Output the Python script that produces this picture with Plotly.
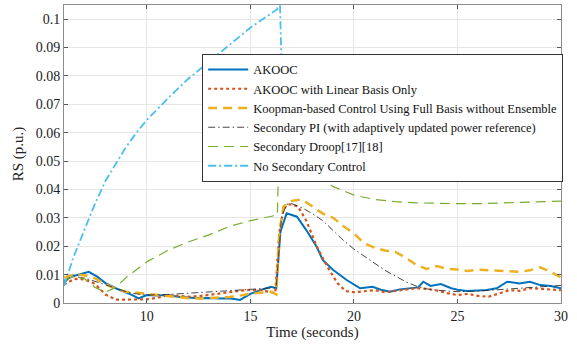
import plotly.graph_objects as go

# ---- data ----
t_blue = [6, 6.3, 6.6, 7, 7.2, 7.6, 8, 8.5, 9, 9.3, 9.6, 10, 10.5, 11, 11.5, 12, 12.5, 13, 13.5, 14, 14.5, 15, 15.5, 16, 16.25,
          16.45, 16.75, 17.25, 17.7, 18.2, 18.5, 19, 19.65, 20.3, 20.9, 21.3, 21.75, 22.2, 22.7, 23.1, 23.35, 23.7, 24.2, 24.7,
          25, 25.45, 26, 26.4, 26.9, 27.4, 28, 28.5, 29, 29.5, 30]
akooc = [0.007, 0.0095, 0.0098, 0.0105, 0.011, 0.0093, 0.007, 0.0052, 0.0038, 0.0028, 0.0016, 0.0028, 0.0026, 0.0028, 0.0022,
         0.002, 0.0017, 0.0018, 0.0016, 0.0017, 0.0011, 0.0032, 0.0046, 0.0057, 0.0052,
         0.025, 0.0316, 0.0304, 0.0257, 0.0198, 0.0151, 0.0116, 0.0081, 0.0052, 0.0057, 0.0047, 0.004, 0.0048, 0.0052, 0.0055,
         0.0075, 0.006, 0.0067, 0.0052, 0.0047, 0.0042, 0.0044, 0.0046, 0.0052, 0.0075, 0.0069, 0.0075, 0.0063, 0.006, 0.0052]

t_red = [6, 6.5, 7, 7.5, 8, 8.5, 9, 9.5, 10, 10.5, 11, 11.5, 12, 12.5, 13, 13.5, 14, 14.5, 15, 15.5, 16, 16.2,
         16.4, 16.6, 16.8, 17, 17.3, 17.7, 18.2, 18.7, 19.2, 19.6, 20, 20.5, 21, 21.5, 22, 22.5, 23, 23.5, 24, 24.5,
         25, 25.5, 26, 26.5, 27, 27.5, 28, 28.5, 29, 29.5, 30]
akooc_linear = [0.0065, 0.0085, 0.0083, 0.0067, 0.003, 0.0012, 0.0012, 0.0013, 0.0013, 0.0018, 0.0027, 0.0025, 0.0022,
                0.0024, 0.0028, 0.0033, 0.0038, 0.0043, 0.0046, 0.0045, 0.0036, 0.0035,
                0.025, 0.033, 0.0348, 0.0347, 0.034, 0.029, 0.020, 0.013, 0.007, 0.0042, 0.0038, 0.0042, 0.0045, 0.0038,
                0.0042, 0.0048, 0.0052, 0.005, 0.0044, 0.0035, 0.0028, 0.0032, 0.0025, 0.0022, 0.0033, 0.0045, 0.0043,
                0.0052, 0.005, 0.0047, 0.0045]

t_orange = [6, 6.5, 7, 7.5, 8, 8.5, 9, 9.5, 10, 10.5, 11, 11.5, 12, 12.5, 13, 13.5, 14, 14.5, 15, 15.5, 16, 16.25,
            16.4, 16.6, 17, 17.5, 18, 18.5, 19, 19.5, 20, 20.5, 21, 21.5, 22, 22.5, 23, 23.5, 24, 24.5, 25, 25.5,
            26, 26.5, 27, 27.5, 28, 28.5, 29, 29.5, 30]
koopman_full = [0.009, 0.010, 0.0098, 0.0087, 0.0066, 0.005, 0.004, 0.0036, 0.0034, 0.003, 0.0026, 0.002, 0.0017,
                0.0016, 0.0017, 0.0018, 0.0021, 0.0026, 0.0033, 0.0036, 0.004, 0.003,
                0.025, 0.034, 0.036, 0.0365, 0.034, 0.0315, 0.030, 0.027, 0.0245, 0.021, 0.0195, 0.0185, 0.018, 0.016,
                0.0135, 0.012, 0.013, 0.012, 0.0118, 0.0113, 0.0117, 0.0115, 0.0115, 0.0112, 0.011, 0.0115, 0.0126,
                0.011, 0.009]

t_pi = [6, 6.5, 7, 7.5, 8, 8.5, 9, 9.5, 10, 11, 12, 13, 14, 15, 16, 16.25, 16.5, 16.75, 17, 17.5, 18, 18.5, 19, 19.5,
        20, 20.5, 21, 21.5, 22, 22.5, 23, 23.5, 24, 25, 26, 27, 28, 29, 30]
secondary_pi = [0.008, 0.0093, 0.0088, 0.0075, 0.0064, 0.0052, 0.004, 0.0032, 0.0028, 0.003, 0.0034, 0.0038, 0.0043,
                0.0048, 0.0053, 0.0055, 0.030, 0.0348, 0.035, 0.0335, 0.0315, 0.029, 0.0255, 0.022, 0.019, 0.0165,
                0.014, 0.0115, 0.0095, 0.0075, 0.006, 0.005, 0.0045, 0.004, 0.0042, 0.0047, 0.0053, 0.0058, 0.0062]

t_droop = [6, 6.5, 7, 7.5, 8, 8.5, 9, 9.5, 10, 11, 12, 13, 14, 15, 16, 16.3, 16.4, 17, 17.5, 18, 19, 20, 21, 22, 23,
           24, 25, 26, 27, 28, 29, 30]
secondary_droop = [0.008, 0.0093, 0.0085, 0.0055, 0.0038, 0.0055, 0.009, 0.0118, 0.0145, 0.0185, 0.0215, 0.024, 0.027,
                   0.029, 0.0305, 0.031, 0.058, 0.052, 0.049, 0.046, 0.041, 0.038, 0.0365, 0.0357, 0.0353, 0.0351,
                   0.035, 0.035, 0.0352, 0.0354, 0.0357, 0.0359]

t_none = [6, 6.45, 7, 7.5, 8, 8.5, 9, 9.5, 10, 11, 12, 13, 14, 15, 16, 16.3, 16.38, 16.5]
no_secondary = [0.006, 0.016, 0.026, 0.035, 0.043, 0.049, 0.055, 0.060, 0.0645, 0.072, 0.079, 0.085, 0.091, 0.097,
                0.102, 0.1035, 0.12, 0.085]

x_ticks = [10, 15, 20, 25, 30]
y_ticks = [0, 0.01, 0.02, 0.03, 0.04, 0.05, 0.06, 0.07, 0.08, 0.09, 0.1]
y_labels = ["0", "0.01", "0.02", "0.03", "0.04", "0.05", "0.06", "0.07", "0.08", "0.09", "0.1"]

FONT = "Liberation Serif, Times New Roman, Times, serif"

fig = go.Figure()
fig.add_trace(go.Scatter(x=t_blue, y=akooc, mode="lines", name="AKOOC",
                         line=dict(color="#0072BD", width=2)))
fig.add_trace(go.Scatter(x=t_red, y=akooc_linear, mode="lines", name="AKOOC with Linear Basis Only",
                         line=dict(color="#D95319", width=2.2, dash="dot")))
fig.add_trace(go.Scatter(x=t_orange, y=koopman_full, mode="lines",
                         name="Koopman-based Control Using Full Basis without Ensemble",
                         line=dict(color="#EDB120", width=2.5, dash="9px,6px")))
fig.add_trace(go.Scatter(x=t_pi, y=secondary_pi, mode="lines",
                         name="Secondary PI (with adaptively updated power reference)",
                         line=dict(color="#333333", width=0.9, dash="7px,3px,1.5px,3px")))
fig.add_trace(go.Scatter(x=t_droop, y=secondary_droop, mode="lines", name="Secondary Droop[17][18]",
                         line=dict(color="#77AC30", width=1.2, dash="10px,6px")))
fig.add_trace(go.Scatter(x=t_none, y=no_secondary, mode="lines", name="No Secondary Control",
                         line=dict(color="#4DBEEE", width=1.8, dash="8px,3px,2px,3px")))

axis_common = dict(showgrid=True, gridcolor="#e6e6e6", gridwidth=1, showline=True, linecolor="#8c8c8c",
                   linewidth=1, mirror="ticks", ticks="inside", ticklen=4, tickcolor="#555555",
                   zeroline=False, tickfont=dict(family=FONT, size=14, color="#222222"))

fig.update_layout(
    width=577, height=352,
    margin=dict(l=64, r=16, t=5, b=49),
    paper_bgcolor="white", plot_bgcolor="white",
    font=dict(family=FONT, size=13, color="#222222"),
    showlegend=True,
    legend=dict(x=0.278, y=0.836, xanchor="left", yanchor="top",
                bgcolor="white", bordercolor="#333333", borderwidth=1,
                font=dict(family=FONT, size=12.5, color="#111111"),
                itemwidth=40, tracegroupgap=0, traceorder="normal"),
    xaxis=dict(range=[6, 30], tickvals=x_ticks, ticktext=[str(v) for v in x_ticks],
               title=dict(text="Time (seconds)", font=dict(family=FONT, size=15), standoff=2),
               **axis_common),
    yaxis=dict(range=[0, 0.105], tickvals=y_ticks, ticktext=y_labels,
               title=dict(text="RS (p.u.)", font=dict(family=FONT, size=15), standoff=8),
               **axis_common),
)

fig.write_html("out.html", config={"displayModeBar": False},
               post_script="document.body.style.margin='0';")
